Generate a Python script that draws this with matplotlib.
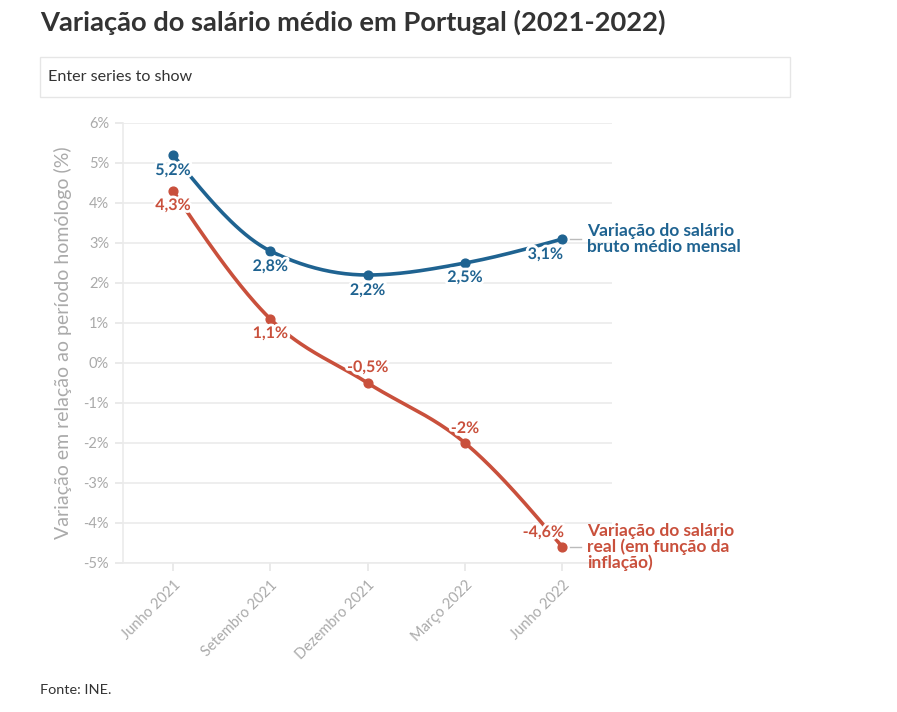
import numpy as np
import matplotlib.pyplot as plt
import matplotlib.patheffects as pe
from matplotlib.patches import Rectangle

plt.rcParams['font.family'] = ['Lato', 'DejaVu Sans']

# dados
meses = ["Junho 2021", "Setembro 2021", "Dezembro 2021", "Março 2022", "Junho 2022"]
bruto = [5.2, 2.8, 2.2, 2.5, 3.1]
real = [4.3, 1.1, -0.5, -2.0, -4.6]
rotulos_bruto = ["5,2%", "2,8%", "2,2%", "2,5%", "3,1%"]
rotulos_real = ["4,3%", "1,1%", "-0,5%", "-2%", "-4,6%"]
nome_bruto = "Variação do salário\nbruto médio mensal"
nome_real = "Variação do salário\nreal (em função da\ninflação)"

AZUL = '#1f6391'
VERMELHO = '#c9503c'
CINZA = '#aaaaaa'


def monotona(x, y, n=40):
    # curva monotona (Fritsch-Carlson), como curveMonotoneX do d3
    x = np.asarray(x, float)
    y = np.asarray(y, float)
    h = np.diff(x)
    d = np.diff(y) / h
    m = np.zeros_like(y)
    for i in range(1, len(y) - 1):
        if d[i - 1] * d[i] <= 0:
            m[i] = 0
        else:
            m[i] = (np.sign(d[i - 1]) + np.sign(d[i])) * min(abs(d[i - 1]), abs(d[i]), 0.5 * abs((h[i - 1] * d[i] + h[i] * d[i - 1]) / (h[i - 1] + h[i])))
    # extremos como no d3
    m[0] = (3 * d[0] - m[1]) / 2
    m[-1] = (3 * d[-1] - m[-2]) / 2
    xs, ys = [], []
    for i in range(len(h)):
        t = np.linspace(0, 1, n)
        h00 = 2 * t**3 - 3 * t**2 + 1
        h10 = t**3 - 2 * t**2 + t
        h01 = -2 * t**3 + 3 * t**2
        h11 = t**3 - t**2
        xs.append(x[i] + t * h[i])
        ys.append(h00 * y[i] + h10 * h[i] * m[i] + h01 * y[i + 1] + h11 * h[i] * m[i + 1])
    return np.concatenate(xs), np.concatenate(ys)


fig = plt.figure(figsize=(8.97, 7.12), dpi=100)
ax = fig.add_axes([123 / 897, 1 - 563 / 712, (612 - 123) / 897, (563 - 123) / 712])

x = np.arange(len(meses))
halo = [pe.withStroke(linewidth=4, foreground='white')]

for serie, rotulos, cor, offs in [
    (bruto, rotulos_bruto, AZUL, [(0, -16), (0, -16), (0, -16), (0, -15), (-17, -16)]),
    (real, rotulos_real, VERMELHO, [(0, -15), (0, -15), (0, 15), (0, 14), (-19, 14)]),
]:
    xs, ys = monotona(x, serie)
    ax.plot(xs, ys, color=cor, lw=2.6, zorder=3, solid_capstyle='round')
    ax.scatter(x, serie, s=40, color=cor, zorder=4)
    for xi, yi, r, (dx, dy) in zip(x, serie, rotulos, offs):
        ax.annotate(r, (xi, yi), xytext=(dx, dy), textcoords='offset pixels',
                    ha='center', va='center', fontsize=11.5, fontweight='bold',
                    color=cor, zorder=5, path_effects=halo)

# nomes das series no fim das linhas
for serie, nome, cor in [(bruto, nome_bruto, AZUL), (real, nome_real, VERMELHO)]:
    ax.annotate(nome, (x[-1], serie[-1]), xytext=(25, 0), textcoords='offset pixels',
                ha='left', va='center', fontsize=12.5, fontweight='bold', color=cor,
                linespacing=0.95, annotation_clip=False)
    ax.plot([x[-1] + 0.08, x[-1] + 0.19], [serie[-1], serie[-1]], color='#bbbbbb',
            lw=1, clip_on=False)

ax.set_xlim(-0.514, 4.51)
ax.set_ylim(-5, 6)
ax.set_yticks(range(-5, 7))
ax.set_yticklabels([f"{v}%" for v in range(-5, 7)])
ax.set_xticks(x)
ax.set_xticklabels(meses, rotation=45, ha='right', rotation_mode='anchor')
ax.grid(axis='y', color='#ebebeb', lw=1.2)
ax.set_axisbelow(True)
for s in ['top', 'right']:
    ax.spines[s].set_visible(False)
ax.spines['left'].set_color('#ebebeb')
ax.spines['bottom'].set_color('#ebebeb')
ax.spines['left'].set_linewidth(1.2)
ax.spines['bottom'].set_linewidth(1.2)
ax.tick_params(axis='both', colors='#e6e6e6', labelcolor=CINZA, labelsize=10.5,
               length=6, width=1.2)
ax.tick_params(axis='y', pad=4)
ax.tick_params(axis='x', pad=5)
ax.set_ylabel("Variação em relação ao período homólogo (%)", color=CINZA,
              fontsize=14, labelpad=8)

# titulo, caixa de selecao e fonte
fig.text(40 / 897, 1 - 22 / 712, "Variação do salário médio em Portugal (2021-2022)",
         fontsize=19.7, fontweight='bold', color='#333333', va='center', ha='left')
fig.patches.append(Rectangle((40 / 897, 1 - 97 / 712), 750 / 897, 40 / 712,
                             transform=fig.transFigure, facecolor='white',
                             edgecolor='#e6e6e6', lw=1))
fig.text(48 / 897, 1 - 77 / 712, "Enter series to show", fontsize=11.6,
         color='#333333', va='center', ha='left')
fig.text(40 / 897, 1 - 690 / 712, "Fonte: INE.", fontsize=10.4, color='#333333',
         va='center', ha='left')

fig.savefig('out.png', dpi=100)
